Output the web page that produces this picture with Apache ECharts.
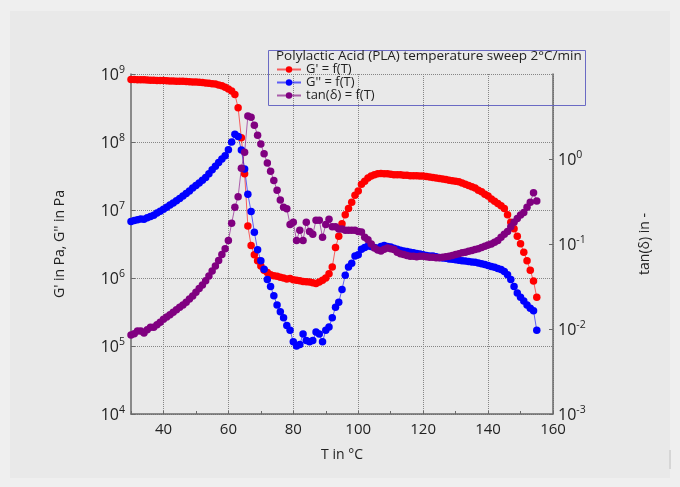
<!DOCTYPE html>
<html>
<head>
<meta charset="utf-8">
<script src="https://cdn.jsdelivr.net/npm/echarts@6/dist/echarts.min.js"></script>
<style>
html, body { margin: 0; padding: 0; background: #efefef; }
#chart { width: 680px; height: 487px; }
</style>
</head>
<body>
<div id="chart"></div>
<script>
// temperature, °C (one point per degree)
var temps = [];
for (var t = 30; t <= 155; t++) temps.push(t);

// storage modulus G' in Pa
var gStorage = [
	8.3e8, 8.3e8, 8.25e8, 8.2e8, 8.2e8, 8.15e8, 8.1e8, 8.1e8, 8.05e8, 8.0e8,      // 30-39
	8.0e8, 7.95e8, 7.9e8, 7.9e8, 7.85e8, 7.8e8, 7.8e8, 7.75e8, 7.7e8, 7.65e8,    // 40-49
	7.6e8, 7.55e8, 7.5e8, 7.4e8, 7.3e8, 7.2e8, 7.1e8, 6.9e8, 6.7e8, 6.4e8,       // 50-59
	6.0e8, 5.6e8, 5.0e8, 3.2e8, 1.15e8, 3.4e7, 5.8e6, 3.0e6, 2.2e6, 1.8e6,       // 60-69
	1.5e6, 1.3e6, 1.2e6, 1.12e6, 1.08e6, 1.06e6, 1.03e6, 1.0e6, 9.7e5, 9.8e5,    // 70-79
	9.4e5, 9.3e5, 9.1e5, 8.9e5, 8.8e5, 8.7e5, 8.5e5, 8.3e5, 8.7e5, 9.3e5,        // 80-89
	1.0e6, 1.15e6, 1.45e6, 2.8e6, 4.1e6, 6.3e6, 8.5e6, 1.05e7, 1.3e7, 1.65e7,    // 90-99
	1.9e7, 2.4e7, 2.65e7, 2.95e7, 3.15e7, 3.3e7, 3.4e7, 3.45e7, 3.4e7, 3.4e7,    // 100-109
	3.35e7, 3.3e7, 3.3e7, 3.3e7, 3.25e7, 3.25e7, 3.2e7, 3.2e7, 3.2e7, 3.15e7,    // 110-119
	3.15e7, 3.1e7, 3.05e7, 3.0e7, 2.95e7, 2.9e7, 2.85e7, 2.8e7, 2.75e7, 2.7e7,   // 120-129
	2.65e7, 2.6e7, 2.5e7, 2.4e7, 2.3e7, 2.2e7, 2.1e7, 1.95e7, 1.85e7, 1.7e7,     // 130-139
	1.6e7, 1.45e7, 1.35e7, 1.25e7, 1.15e7, 1.05e7, 8.5e6, 6.6e6, 5.3e6, 4.1e6,   // 140-149
	3.2e6, 2.4e6, 1.8e6, 1.3e6, 9.0e5, 5.2e5                                     // 150-155
];

// loss modulus G'' in Pa
var gLoss = [
	6.8e6, 7.0e6, 7.2e6, 7.4e6, 7.3e6, 7.7e6, 8.0e6, 8.4e6, 9.0e6, 9.6e6,
	1.03e7, 1.1e7, 1.18e7, 1.27e7, 1.37e7, 1.48e7, 1.6e7, 1.75e7, 1.9e7, 2.1e7,
	2.3e7, 2.5e7, 2.75e7, 3.0e7, 3.4e7, 3.9e7, 4.4e7, 5.0e7, 5.6e7, 6.3e7,
	7.7e7, 1.0e8, 1.3e8, 1.2e8, 7.6e7, 4.0e7, 1.7e7, 9.5e6, 4.7e6, 2.6e6,
	1.8e6, 1.35e6, 9.5e5, 7.5e5, 5.5e5, 4.0e5, 3.2e5, 2.6e5, 2.0e5, 1.7e5,
	1.15e5, 1.0e5, 1.05e5, 1.5e5, 1.2e5, 1.15e5, 1.2e5, 1.6e5, 1.5e5, 1.15e5,
	1.7e5, 1.9e5, 2.6e5, 3.7e5, 4.4e5, 6.8e5, 1.1e6, 1.45e6, 1.65e6, 2.1e6,
	2.2e6, 2.65e6, 2.8e6, 2.95e6, 2.9e6, 2.8e6, 2.75e6, 2.9e6, 3.0e6, 2.9e6,
	2.85e6, 2.75e6, 2.65e6, 2.55e6, 2.5e6, 2.45e6, 2.4e6, 2.35e6, 2.3e6, 2.25e6,
	2.2e6, 2.15e6, 2.1e6, 2.1e6, 2.05e6, 2.0e6, 1.97e6, 1.95e6, 1.9e6, 1.88e6,
	1.85e6, 1.83e6, 1.8e6, 1.78e6, 1.75e6, 1.72e6, 1.7e6, 1.66e6, 1.62e6, 1.58e6,
	1.53e6, 1.48e6, 1.44e6, 1.38e6, 1.33e6, 1.25e6, 1.12e6, 9.5e5, 7.5e5, 6.0e5,
	5.2e5, 4.6e5, 4.0e5, 3.6e5, 3.3e5, 1.7e5
];

// loss factor tan(δ)
var tanDelta = [
	0.0085, 0.0088, 0.0095, 0.0095, 0.009, 0.0098, 0.0105, 0.0105, 0.0112, 0.012,
	0.013, 0.0138, 0.0147, 0.0157, 0.0168, 0.018, 0.0192, 0.0207, 0.0225, 0.0245,
	0.027, 0.030, 0.033, 0.037, 0.042, 0.048, 0.055, 0.064, 0.075, 0.088,
	0.11, 0.175, 0.27, 0.36, 0.78, 1.2, 3.2, 3.1, 2.5, 1.9,
	1.5, 1.15, 0.9, 0.72, 0.56, 0.43, 0.33, 0.27, 0.26, 0.17,
	0.18, 0.11, 0.145, 0.11, 0.18, 0.14, 0.13, 0.19, 0.19, 0.12,
	0.17, 0.195, 0.16, 0.16, 0.15, 0.15, 0.145, 0.145, 0.145, 0.145,
	0.14, 0.138, 0.12, 0.112, 0.1, 0.09, 0.085, 0.083, 0.087, 0.09,
	0.088, 0.086, 0.08, 0.077, 0.075, 0.073, 0.072, 0.072, 0.071, 0.072,
	0.072, 0.071, 0.07, 0.07, 0.069, 0.069, 0.07, 0.071, 0.072, 0.073,
	0.075, 0.077, 0.079, 0.08, 0.082, 0.084, 0.086, 0.088, 0.091, 0.094,
	0.097, 0.1, 0.105, 0.11, 0.12, 0.13, 0.14, 0.16, 0.18, 0.2,
	0.22, 0.235, 0.27, 0.31, 0.4, 0.32
];

var seriesNames = ["G' = f(T)", "G'' = f(T)", "tan(δ) = f(T)"];
var seriesColors = ['#ff0000', '#0000ff', '#800080'];
var chartTitle = 'Polylactic Acid (PLA) temperature sweep 2°C/min';

function pairs(vals) {
	return temps.map(function (t, i) { return [t, vals[i]]; });
}

// 10^n labels with superscript
function powLabel(v) {
	var e = Math.round(Math.log(v) / Math.LN10);
	return '{b|10}{e|' + e + '}';
}
var powRich = {
	b: { fontSize: 16, lineHeight: 18, verticalAlign: 'bottom', color: '#222' },
	e: { fontSize: 10.5, lineHeight: 6, verticalAlign: 'top', color: '#222' }
};

var font = "'Segoe UI', 'Open Sans', sans-serif";
var axisColor = '#6a6a6a';
var gridColor = '#858585';

var chart = echarts.init(document.getElementById('chart'));

function lineSeries(i, vals, yIdx) {
	return {
		name: seriesNames[i],
		type: 'line',
		yAxisIndex: yIdx,
		data: pairs(vals),
		symbol: 'circle',
		symbolSize: 7.5,
		showAllSymbol: true,
		itemStyle: { color: seriesColors[i] },
		lineStyle: { color: seriesColors[i], width: 1, opacity: 0.6 },
		animation: false
	};
}

var option = {
	backgroundColor: '#efefef',
	textStyle: { fontFamily: font },
	title: {
		text: chartTitle,
		left: 276,
		top: 49,
		padding: 0,
		textStyle: { fontSize: 13.5, fontWeight: 'normal', color: '#222', fontFamily: font }
	},
	legend: {
		orient: 'vertical',
		left: 276,
		top: 63,
		padding: 0,
		itemGap: 0,
		itemWidth: 24,
		itemHeight: 8,
		textStyle: { fontSize: 13, color: '#222', fontFamily: font },
		data: seriesNames
	},
	graphic: [
		{ type: 'rect', z: -10, shape: { x: 10, y: 11, width: 660, height: 467 }, style: { fill: '#e9e9e9' } },
		{ type: 'rect', z: -9, shape: { x: 669, y: 450, width: 2, height: 19 }, style: { fill: '#d6d6d6' } },
		{ type: 'rect', z: 1, shape: { x: 268.5, y: 50.5, width: 317, height: 55 }, style: { fill: 'none', stroke: '#6a6ac4', lineWidth: 1 } }
	],
	grid: { left: 131, right: 127, top: 74, bottom: 73 },
	xAxis: {
		type: 'value',
		min: 30,
		max: 160,
		interval: 10,
		name: 'T in °C',
		nameLocation: 'middle',
		nameGap: 34,
		nameTextStyle: { fontSize: 14, color: '#222' },
		axisLine: { lineStyle: { color: axisColor, width: 1.5 } },
		axisTick: { inside: true, length: 3, lineStyle: { color: axisColor } },
		axisLabel: {
			fontSize: 15, color: '#222', margin: 8,
			formatter: function (v) { return v % 20 === 0 ? String(v) : ''; }
		},
		splitLine: { show: true, lineStyle: { type: 'dotted', color: ['transparent', gridColor], width: 1 } }
	},
	yAxis: [{
		type: 'log',
		logBase: 10,
		min: 1e4,
		max: 1e9,
		splitNumber: 5,
		position: 'left',
		name: "G' in Pa, G'' in Pa",
		nameLocation: 'middle',
		nameGap: 64,
		nameTextStyle: { fontSize: 14, color: '#222' },
		axisLine: { show: true, lineStyle: { color: axisColor, width: 1.5 } },
		axisTick: { inside: true, length: 4, lineStyle: { color: axisColor } },
		axisLabel: { formatter: powLabel, rich: powRich, margin: 6 },
		splitLine: { show: true, lineStyle: { type: 'dotted', color: gridColor, width: 1 } }
	}, {
		type: 'log',
		logBase: 10,
		min: 1e-3,
		max: 10,
		splitNumber: 4,
		position: 'right',
		name: 'tan(δ) in -',
		nameLocation: 'middle',
		nameGap: 85,
		nameTextStyle: { fontSize: 14, color: '#222' },
		axisLine: { show: true, lineStyle: { color: axisColor, width: 1.5 } },
		axisTick: { inside: true, length: 4, lineStyle: { color: axisColor } },
		axisLabel: { formatter: powLabel, rich: powRich, margin: 5, showMaxLabel: false },
		splitLine: { show: false }
	}],
	series: [
		lineSeries(0, gStorage, 0),
		lineSeries(1, gLoss, 0),
		lineSeries(2, tanDelta, 1)
	]
};

chart.setOption(option);

window.onresize = function () {
	chart.resize();
};
</script>
</body>
</html>
